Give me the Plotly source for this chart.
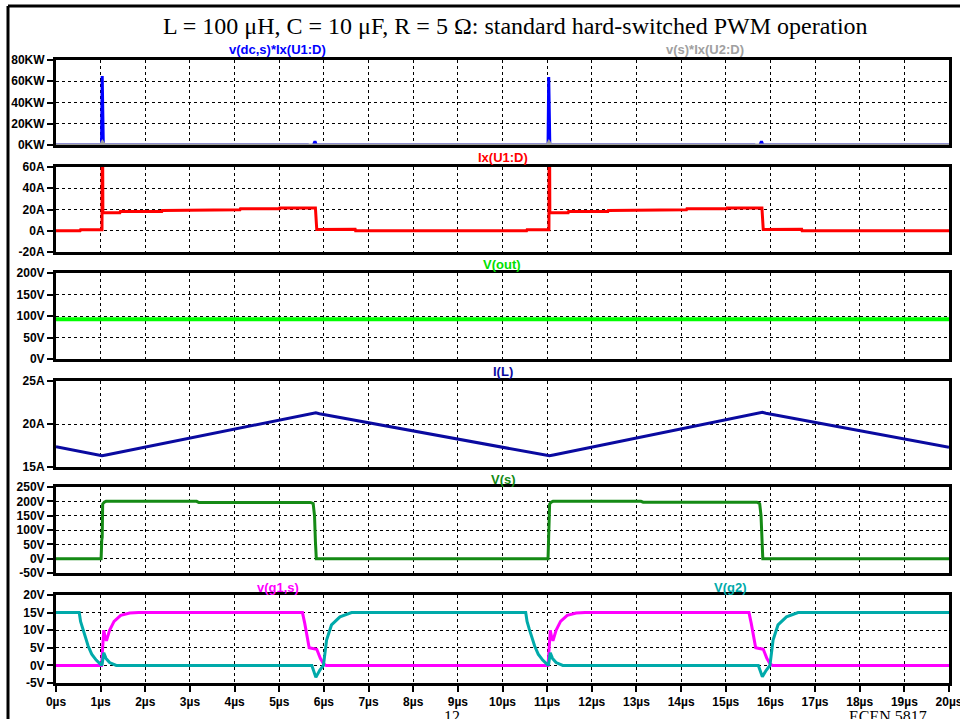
import plotly.graph_objects as go

W, H = 960, 719

# ---------------- data (time in µs) ----------------
# Panel 1: v(dc,s)*Ix(U1:D) [KW] and v(s)*Ix(U2:D) [KW]
t_p_hs = [0, 1.02, 1.035, 1.045, 1.06, 5.64, 5.66, 5.76, 5.80, 5.83,
          11.02, 11.035, 11.045, 11.06, 15.64, 15.66, 15.76, 15.80, 15.83, 20]
p_hs = [0, 0, 65, 2, 0, 0, -1, -0.5, 3.5, 0,
        0, 64, 2, 0, 0, -1, -0.5, 3.5, 0, 0]
t_p_ls = [0, 1.0, 1.04, 1.09, 11.0, 11.04, 11.09, 20]
p_ls = [0, 0, 3, 0, 0, 3, 0, 0]

# Panel 2: Ix(U1:D) [A]
t_id = [0, 0.54, 0.55, 1.03, 1.035, 1.045, 1.05, 1.43, 1.44, 2.37, 2.38, 3.25, 3.26,
        4.12, 4.13, 5.0, 5.01, 5.81, 5.84, 6.2, 6.5, 6.7, 6.71,
        10.54, 10.55, 11.04, 11.045, 11.055, 11.06, 11.47, 11.48, 12.36, 12.37, 13.23, 13.24,
        14.12, 14.13, 15.02, 15.03, 15.81, 15.84, 16.2, 16.48, 16.7, 16.71, 20]
i_d = [0, 0, 0.9, 0.9, 75, 75, 16.9, 16.9, 18.0, 18.0, 19.0, 19.0, 19.7,
       19.7, 20.6, 20.6, 21.4, 21.4, 1.2, 1.2, 1.5, 1.5, 0,
       0, 0.9, 0.9, 75, 75, 16.9, 16.9, 18.0, 18.0, 19.0, 19.0, 19.7,
       19.7, 20.6, 20.6, 21.4, 21.4, 1.2, 1.2, 1.5, 1.5, 0, 0]

# Panel 3: V(out) [V]
t_vout = [0, 20]
v_out = [92.5, 92.5]

# Panel 4: I(L) [A]
t_il = [0, 0.95, 1.03, 1.12, 5.74, 5.82, 5.9, 10.97, 11.05, 11.14, 15.74, 15.82, 15.9, 20]
i_l = [17.35, 16.4, 16.3, 16.4, 21.2, 21.3, 21.2, 16.4, 16.3, 16.4, 21.25, 21.35, 21.25, 17.3]

# Panel 5: V(s) [V]
t_vs = [0, 1.01, 1.025, 1.035, 1.045, 1.08, 1.12, 3.15, 3.2, 5.7, 5.76, 5.79, 5.81, 5.83,
        11.02, 11.035, 11.045, 11.055, 11.09, 11.13, 13.1, 13.15, 15.7, 15.76, 15.79, 15.81, 15.83, 20]
v_s = [0, 0, 65, 75, 190, 197, 200, 200, 196, 196, 192, 150, 60, 0,
       0, 65, 75, 190, 197, 200, 200, 197, 197, 192, 150, 60, 0, 0]

# Panel 6: v(g1,s) and V(g2) [V]
t_g1 = [0, 1.02, 1.05, 1.07, 1.10, 1.13, 1.2, 1.3, 1.45, 1.65, 1.85,
        5.52, 5.57, 5.61, 5.67, 5.75, 5.84, 5.92, 5.99, 6.05,
        11.02, 11.05, 11.07, 11.10, 11.13, 11.2, 11.3, 11.45, 11.65, 11.85,
        15.52, 15.57, 15.61, 15.67, 15.75, 15.84, 15.92, 15.99, 16.05, 20]
v_g1 = [0, 0, 6, 10, 8, 7, 10, 12.5, 14.2, 14.9, 15,
        15, 12, 9.2, 5, 4.8, 4.6, 2, 0.5, 0,
        0, 6, 10, 8, 7, 10, 12.5, 14.2, 14.9, 15,
        15, 12, 9.2, 5, 4.8, 4.6, 2, 0.5, 0, 0]
t_g2 = [0, 0.52, 0.55, 0.6, 0.65, 0.72, 0.8, 0.9, 1.0, 1.03, 1.07, 1.12, 1.2, 1.35,
        5.73, 5.82, 5.91, 5.99, 6.06, 6.17, 6.36, 6.62,
        10.52, 10.55, 10.6, 10.65, 10.72, 10.8, 10.9, 11.0, 11.03, 11.07, 11.12, 11.2, 11.35,
        15.73, 15.82, 15.91, 15.99, 16.06, 16.17, 16.36, 16.62, 20]
v_g2 = [15, 15, 12.5, 10.3, 8.3, 5.5, 3.2, 1.5, 0.3, 0, 3.6, 2, 0.8, 0,
        0, -3.4, -1.3, 0, 7.2, 11.5, 13.8, 15,
        15, 12.5, 10.3, 8.3, 5.5, 3.2, 1.5, 0.3, 0, 3.6, 2, 0.8, 0,
        0, -3.2, -1.3, 0, 7.2, 11.5, 13.8, 15, 15]

# tick labels
x_ticks = list(range(0, 21))
x_ticktext = [f"{v}µs" for v in x_ticks]
p1_ticks = [0, 20, 40, 60, 80]
p1_text = ["0KW", "20KW", "40KW", "60KW", "80KW"]
p2_ticks = [-20, 0, 20, 40, 60]
p2_text = ["-20A", "0A", "20A", "40A", "60A"]
p3_ticks = [0, 50, 100, 150, 200]
p3_text = ["0V", "50V", "100V", "150V", "200V"]
p4_ticks = [15, 20, 25]
p4_text = ["15A", "20A", "25A"]
p5_ticks = [-50, 0, 50, 100, 150, 200, 250]
p5_text = ["-50V", "0V", "50V", "100V", "150V", "200V", "250V"]
p6_ticks = [-5, 0, 5, 10, 15, 20]
p6_text = ["-5V", "0V", "5V", "10V", "15V", "20V"]

title_text = "L = 100 μH, C = 10 μF, R = 5 Ω: standard hard-switched PWM operation"

# ---------------- layout helpers ----------------
panels_px = [(60, 145), (167, 252), (273, 359), (381, 467), (487, 573), (595, 683)]
ranges = [(0, 80), (-20, 60), (0, 200), (15, 25), (-50, 250), (-5, 20)]
yticks = [(p1_ticks, p1_text), (p2_ticks, p2_text), (p3_ticks, p3_text),
          (p4_ticks, p4_text), (p5_ticks, p5_text), (p6_ticks, p6_text)]
xdom = [56 / W, 949 / W]
tickfont = dict(family="Liberation Sans", size=12, color="black", weight="bold")

fig = go.Figure()

def add(t, v, color, k, width=3):
    sfx = "" if k == 1 else str(k)
    fig.add_trace(go.Scatter(x=t, y=v, mode="lines", line=dict(color=color, width=width),
                             xaxis="x" + sfx, yaxis="y" + sfx, showlegend=False,
                             hoverinfo="skip"))

add(t_p_hs, p_hs, "#0000FF", 1)
add(t_p_ls, p_ls, "#A0A0A0", 1)
add(t_id, i_d, "#FF0000", 2)
add(t_vout, v_out, "#00FF00", 3, 4)
add(t_il, i_l, "#0A0AA0", 4)
add(t_vs, v_s, "#158A15", 5)
add(t_g1, v_g1, "#FF00FF", 6)
add(t_g2, v_g2, "#00AAAA", 6)

layout = dict(width=W, height=H, margin=dict(l=0, r=0, t=0, b=0, autoexpand=False),
              paper_bgcolor="white", plot_bgcolor="white", showlegend=False)

for k in range(1, 7):
    top, bot = panels_px[k - 1]
    sfx = "" if k == 1 else str(k)
    tv, tt = yticks[k - 1]
    layout["xaxis" + sfx] = dict(
        domain=xdom, range=[0, 20], anchor="y" + sfx,
        tickvals=x_ticks, ticktext=x_ticktext, showticklabels=(k == 6),
        ticks="outside" if k == 6 else "", ticklen=6, tickwidth=2, tickcolor="black",
        showgrid=True, gridcolor="black", gridwidth=1, griddash="3px,3px",
        showline=True, linecolor="black", linewidth=3, mirror=True, zeroline=False,
        tickfont=tickfont, fixedrange=True, ticklabeloverflow="allow",
    )
    layout["yaxis" + sfx] = dict(
        domain=[1 - bot / H, 1 - top / H], range=list(ranges[k - 1]), anchor="x" + sfx,
        tickvals=tv, ticktext=tt, ticks="outside", ticklen=6, tickwidth=2,
        tickcolor="black", showgrid=True, gridcolor="black", gridwidth=1,
        griddash="3px,3px", showline=True, linecolor="black", linewidth=3,
        mirror=True, zeroline=False, tickfont=tickfont, fixedrange=True,
        ticklabeloverflow="allow",
    )

fig.update_layout(**layout)

# trace labels
labels = [
    ("v(dc,s)*Ix(U1:D)", "#0000FF", 277, 49),
    ("v(s)*Ix(U2:D)", "#A0A0A0", 705, 49),
    ("Ix(U1:D)", "#FF0000", 503, 157),
    ("V(out)", "#00E000", 502, 264),
    ("I(L)", "#0A0AA0", 503, 371),
    ("V(s)", "#158A15", 503, 479),
    ("v(g1,s)", "#FF00FF", 278, 587),
    ("V(g2)", "#00AAAA", 730, 587),
]
for txt, col, px, py in labels:
    fig.add_annotation(text=txt, x=px / W, y=1 - py / H, xref="paper", yref="paper",
                       showarrow=False, xanchor="center", yanchor="middle",
                       font=dict(family="Liberation Sans", size=13, color=col, weight="bold"))

fig.add_annotation(text=title_text, x=515 / W, y=1 - 26 / H, xref="paper", yref="paper",
                   showarrow=False, xanchor="center", yanchor="middle",
                   font=dict(family="Liberation Serif", size=24, color="black"))
fig.add_annotation(text="12", x=452 / W, y=1 - 706 / H, xref="paper", yref="paper",
                   showarrow=False, xanchor="center", yanchor="top",
                   font=dict(family="Liberation Serif", size=16, color="black"))
fig.add_annotation(text="ECEN 5817", x=888 / W, y=1 - 706 / H, xref="paper", yref="paper",
                   showarrow=False, xanchor="center", yanchor="top",
                   font=dict(family="Liberation Serif", size=16, color="black"))

# outer slide frame
fig.add_shape(type="line", xref="paper", yref="paper", x0=8 / W, x1=8 / W, y0=0, y1=1 - 6 / H,
              line=dict(color="black", width=3))
fig.add_shape(type="line", xref="paper", yref="paper", x0=8 / W, x1=1, y0=1 - 6 / H, y1=1 - 6 / H,
              line=dict(color="black", width=3))

fig.write_html("out.html")
